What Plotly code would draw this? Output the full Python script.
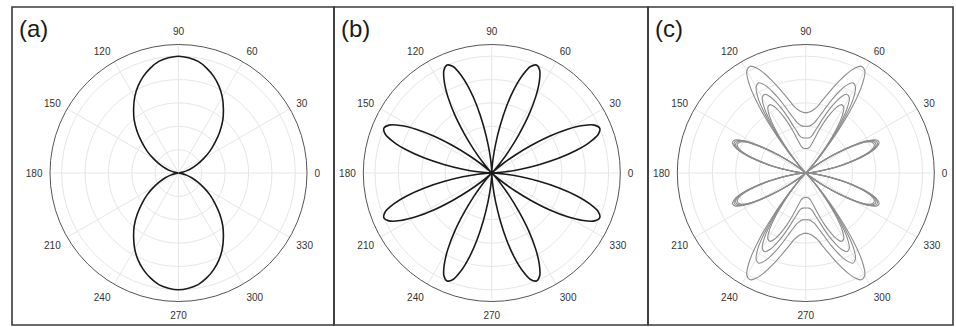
import plotly.graph_objects as go

# ---- data: one quadrant (0..90 deg) of each pattern; the rest follows by mirror symmetry ----
THETA_A = [0, 5, 10, 15, 20, 25, 30, 35, 40, 45, 50, 55, 60, 65, 70, 75, 80, 85, 90]
R_A = [0.00, 0.01, 0.03, 0.07, 0.12, 0.18, 0.25, 0.33, 0.41, 0.50,
       0.59, 0.67, 0.75, 0.82, 0.88, 0.93, 0.97, 0.99, 1.00]

THETA_Q = [0, 2.5, 5, 7.5, 10, 12.5, 15, 17.5, 20, 22.5, 25, 27.5, 30, 32.5, 35, 37.5, 40, 42.5,
           45, 47.5, 50, 52.5, 55, 57.5, 60, 62.5, 65, 67.5, 70, 72.5, 75, 77.5, 80, 82.5, 85, 87.5, 90]

R_B = [0.00, 0.03, 0.12, 0.25, 0.41, 0.59, 0.75, 0.88, 0.97, 1.00, 0.97, 0.88, 0.75, 0.59, 0.41, 0.25, 0.12, 0.03,
       0.00, 0.03, 0.12, 0.25, 0.41, 0.59, 0.75, 0.88, 0.97, 1.00, 0.97, 0.88, 0.75, 0.59, 0.41, 0.25, 0.12, 0.03, 0.00]

R_C1 = [0.00, 0.01, 0.05, 0.12, 0.22, 0.34, 0.46, 0.57, 0.645, 0.68, 0.67, 0.60, 0.48, 0.34, 0.20, 0.09, 0.03, 0.01,
        0.02, 0.08, 0.22, 0.45, 0.70, 0.90, 1.01, 1.03, 0.99, 0.92, 0.84, 0.76, 0.69, 0.63, 0.58, 0.55, 0.53, 0.52, 0.515]
R_C2 = [0.00, 0.01, 0.05, 0.115, 0.215, 0.33, 0.45, 0.56, 0.635, 0.665, 0.655, 0.59, 0.47, 0.33, 0.195, 0.085, 0.03, 0.01,
        0.015, 0.065, 0.18, 0.38, 0.59, 0.76, 0.85, 0.87, 0.83, 0.76, 0.68, 0.60, 0.53, 0.48, 0.44, 0.42, 0.405, 0.40, 0.40]
R_C3 = [0.00, 0.01, 0.045, 0.11, 0.21, 0.32, 0.44, 0.55, 0.625, 0.65, 0.64, 0.58, 0.46, 0.32, 0.19, 0.08, 0.025, 0.01,
        0.01, 0.055, 0.16, 0.33, 0.51, 0.66, 0.745, 0.76, 0.72, 0.65, 0.57, 0.49, 0.42, 0.37, 0.33, 0.31, 0.302, 0.30, 0.30]
R_C4 = [0.00, 0.01, 0.045, 0.105, 0.205, 0.31, 0.43, 0.54, 0.61, 0.635, 0.625, 0.57, 0.45, 0.31, 0.185, 0.08, 0.025, 0.01,
        0.01, 0.05, 0.14, 0.29, 0.45, 0.58, 0.65, 0.66, 0.62, 0.55, 0.47, 0.39, 0.32, 0.27, 0.235, 0.22, 0.212, 0.21, 0.21]

PANEL_LABELS = ["(a)", "(b)", "(c)"]
ANGLE_LABELS = [0, 30, 60, 90, 120, 150, 180, 210, 240, 270, 300, 330]
R_MAX = 1.1
R_GRID = [0.2, 0.4, 0.6, 0.8, 1.0]

W, H = 956, 327
CENTERS = [(178.5, 173.0), (491.8, 173.0), (805.8, 173.0)]
RADIUS = 128.5
BOXES = [(12, 334), (334, 648), (648, 953)]
BOX_Y = (7, 325)
CLEAR = "rgba(0,0,0,0)"


def full_turn(theta_q, r_q):
    """Unfold one quadrant into a closed 0..360 curve using the pattern's mirror symmetry."""
    th, rr = list(theta_q), list(r_q)
    th += [180 - t for t in reversed(theta_q)][1:]
    rr += list(reversed(r_q))[1:]
    th += [180 + t for t in theta_q][1:]
    rr += list(r_q)[1:]
    th += [360 - t for t in reversed(theta_q)][1:]
    rr += list(reversed(r_q))[1:]
    return th, rr


def dom(cx, cy):
    return dict(x=[(cx - RADIUS) / W, (cx + RADIUS) / W],
                y=[1 - (cy + RADIUS) / H, 1 - (cy - RADIUS) / H])


fig = go.Figure()
layout = dict(width=W, height=H, margin=dict(l=0, r=0, t=0, b=0), autosize=False,
              paper_bgcolor="white", plot_bgcolor="white", showlegend=False,
              font=dict(family="Liberation Sans, Arial, sans-serif", color="#333"))

series = [
    [(THETA_A, R_A, "#1a1a1a", 1.6)],
    [(THETA_Q, R_B, "#1a1a1a", 1.6)],
    [(THETA_Q, R_C1, "#8c8c8c", 1.1), (THETA_Q, R_C2, "#8c8c8c", 1.1),
     (THETA_Q, R_C3, "#8c8c8c", 1.1), (THETA_Q, R_C4, "#8c8c8c", 1.1)],
]

for i, (cx, cy) in enumerate(CENTERS):
    base = "polar" if i == 0 else f"polar{2 * i + 1}"
    over = f"polar{2 * i + 2}"
    d = dom(cx, cy)
    # grid, outer ring and angle labels (invisible outside ticks push the labels off the ring)
    layout[base] = dict(
        domain=d, bgcolor=CLEAR,
        radialaxis=dict(range=[0, R_MAX], tickvals=R_GRID, showticklabels=False, ticks="",
                        showline=False, gridcolor="#e6e6e6", gridwidth=1),
        angularaxis=dict(tickvals=ANGLE_LABELS, ticktext=[str(a) for a in ANGLE_LABELS],
                         direction="counterclockwise", rotation=0,
                         ticks="outside", ticklen=5, tickcolor=CLEAR,
                         showline=True, linecolor="#555", linewidth=1,
                         gridcolor="#e6e6e6", gridwidth=1,
                         tickfont=dict(size=10, color="#333")),
    )
    # 10-degree inward ticks on the ring
    layout[over] = dict(
        domain=d, bgcolor=CLEAR,
        radialaxis=dict(range=[0, R_MAX], visible=False),
        angularaxis=dict(tickvals=list(range(0, 360, 10)), showticklabels=False,
                         direction="counterclockwise", rotation=0,
                         ticks="inside", ticklen=4, tickwidth=1, tickcolor="#555",
                         showline=True, linecolor="#555", linewidth=1, showgrid=False),
    )
    for th_q, r_q, col, lw in series[i]:
        th, rr = full_turn(th_q, r_q)
        fig.add_trace(go.Scatterpolar(theta=th, r=rr, mode="lines", subplot=base,
                                      line=dict(color=col, width=lw, shape="spline", smoothing=1.0),
                                      hoverinfo="skip"))

fig.update_layout(**layout)

shapes = []
for x0, x1 in BOXES:
    shapes.append(dict(type="rect", xref="paper", yref="paper",
                       x0=x0 / W, x1=x1 / W, y0=1 - BOX_Y[1] / H, y1=1 - BOX_Y[0] / H,
                       line=dict(color="#3a3a3a", width=1.6)))
fig.update_layout(shapes=shapes)

for (x0, _), lab in zip(BOXES, PANEL_LABELS):
    fig.add_annotation(text=lab, xref="paper", yref="paper", x=(x0 + 5) / W, y=1 - 13 / H,
                       xanchor="left", yanchor="top", showarrow=False,
                       font=dict(size=24, color="#1a1a1a", family="Liberation Sans, Arial, sans-serif"))

fig.write_html("out.html")
